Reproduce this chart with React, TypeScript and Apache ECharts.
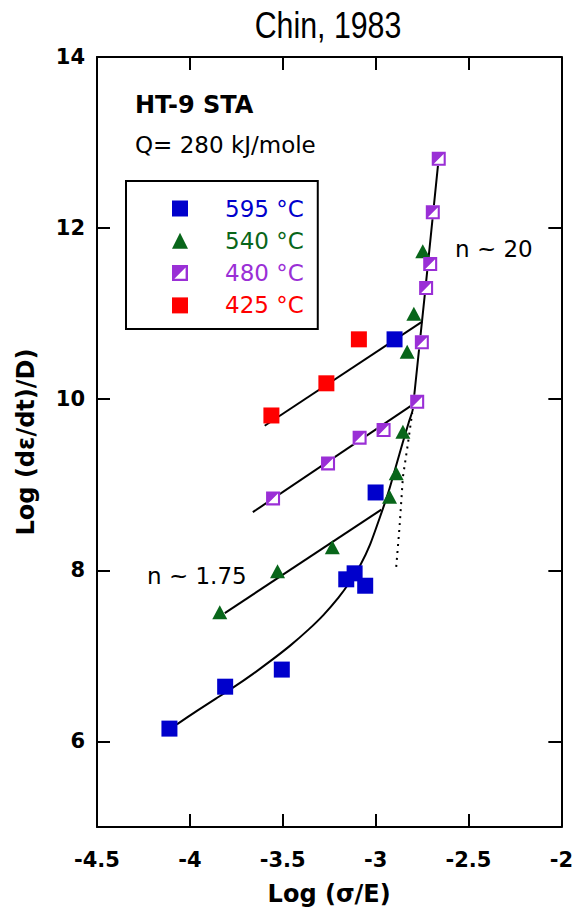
import React, { useEffect, useRef } from "react";
import * as echarts from "echarts";

const xTicks = [-4.5, -4, -3.5, -3, -2.5, -2];
const yTicks = [6, 8, 10, 12, 14];

const s595: number[][] = [
  [-4.11, 6.15], [-3.81, 6.64], [-3.505, 6.84], [-3.158, 7.895], [-3.113, 7.965],
  [-3.056, 7.82], [-3.0, 8.91], [-2.898, 10.7],
];
const s540: number[][] = [
  [-3.839, 7.51], [-3.528, 7.99], [-3.233, 8.27], [-2.925, 8.86], [-2.889, 9.135],
  [-2.853, 9.62], [-2.83, 10.556], [-2.794, 11.0], [-2.746, 11.73],
];
const s480: number[][] = [
  [-3.552, 8.84], [-3.256, 9.25], [-3.086, 9.55], [-2.957, 9.64], [-2.776, 9.97],
  [-2.751, 10.665], [-2.728, 11.3], [-2.706, 11.58], [-2.692, 12.185], [-2.66, 12.81],
];
const s425: number[][] = [
  [-3.561, 9.81], [-3.265, 10.186], [-3.09, 10.7],
];

const fit425: number[][] = [[-3.597, 9.69], [-2.749, 10.906]];
const fit480: number[][] = [[-3.661, 8.68], [-2.77, 9.98]];
const fit540: number[][] = [[-3.812, 7.5], [-2.969, 8.71]];
const curve595: number[][] = [
  [-4.07, 6.2], [-3.96, 6.36], [-3.86, 6.5], [-3.76, 6.64], [-3.66, 6.79],
  [-3.56, 6.95], [-3.46, 7.12], [-3.36, 7.31], [-3.28, 7.48], [-3.2, 7.68],
  [-3.14, 7.86], [-3.08, 8.07], [-3.03, 8.3], [-2.98, 8.6], [-2.93, 8.92],
  [-2.89, 9.22], [-2.853, 9.5], [-2.82, 9.74], [-2.8, 9.88], [-2.661, 12.8],
];
const dotted: number[][] = [
  [-2.889, 8.04], [-2.871, 8.51], [-2.853, 9.09], [-2.826, 9.48], [-2.803, 9.84],
];

const names = ["595 °C", "540 °C", "480 °C", "425 °C"];
const colors = ["#0000CC", "#08661A", "#9A2FD6", "#FF0000"];

const FONT = "'DejaVu Sans', Verdana, sans-serif";
const halfSquare = "path://M0,0L10,0L10,10L0,10Z M1.5,8.5L8.5,8.5L8.5,1.5Z";

export default function App() {
  const ref = useRef<HTMLDivElement>(null);
  useEffect(() => {
    if (!ref.current) return;
    const chart = echarts.init(ref.current, null, { renderer: "svg" });
    const lineSeries = (data: number[][], extra: any = {}) => ({
      type: "line",
      data,
      showSymbol: false,
      symbol: "none",
      silent: true,
      z: 2,
      lineStyle: { color: "#000", width: 2, ...(extra.lineStyle || {}) },
      smooth: extra.smooth || false,
    });
    const axisCommon = {
      axisLine: { show: true, onZero: false, lineStyle: { color: "#000", width: 2 } },
      axisTick: { show: true, inside: true, length: 13, lineStyle: { color: "#000", width: 2 } },
      splitLine: { show: false },
    };
    chart.setOption({
      animation: false,
      backgroundColor: "#fff",
      grid: { left: 97, right: 14, top: 57, bottom: 86, containLabel: false },
      xAxis: [
        {
          type: "value", min: xTicks[0], max: xTicks[xTicks.length - 1], interval: 0.5,
          position: "bottom", ...axisCommon,
          axisLabel: { show: true, margin: 22, color: "#000", fontSize: 21, fontWeight: "bold", fontFamily: FONT },
          name: "Log (σ/E)", nameLocation: "middle", nameGap: 55,
          nameTextStyle: { color: "#000", fontSize: 24, fontWeight: "bold", fontFamily: FONT },
        },
        {
          type: "value", min: xTicks[0], max: xTicks[xTicks.length - 1], interval: 0.5,
          position: "top", ...axisCommon, axisLabel: { show: false },
        },
      ],
      yAxis: [
        {
          type: "value", min: 5, max: 14, position: "left", ...axisCommon,
          axisTick: { ...axisCommon.axisTick, customValues: yTicks },
          axisLabel: { show: true, customValues: yTicks, margin: 12, color: "#000", fontSize: 21, fontWeight: "bold", fontFamily: FONT },
          name: "Log (dε/dt)/D)", nameLocation: "middle", nameGap: 59, nameRotate: 90,
          nameTextStyle: { color: "#000", fontSize: 24, fontWeight: "bold", fontFamily: FONT },
        },
        {
          type: "value", min: 5, max: 14, position: "right", ...axisCommon,
          axisTick: { ...axisCommon.axisTick, customValues: yTicks },
          axisLabel: { show: false },
        },
      ],
      legend: {
        orient: "vertical", left: 126, top: 181,
        padding: [16, 14, 12, 46], itemGap: 9.3, itemWidth: 16, itemHeight: 16,
        borderColor: "#000", borderWidth: 2, backgroundColor: "#fff",
        selectedMode: false,
        textStyle: { fontSize: 23, lineHeight: 23, fontFamily: FONT, padding: [0, 0, 0, 32] },
        data: names.map((n, i) => ({ name: n, textStyle: { color: colors[i] } })),
      },
      graphic: [
        {
          type: "text", x: 328, y: 25, scaleX: 0.82,
          style: { text: "Chin, 1983", x: 0, y: 0, align: "center", verticalAlign: "middle", fontSize: 37, fontFamily: "'Liberation Sans', Arial, sans-serif", fill: "#000" },
        },
        {
          type: "text", x: 135, y: 105,
          style: { text: "HT-9 STA", align: "left", verticalAlign: "middle", fontSize: 24, fontWeight: "bold", fontFamily: FONT, fill: "#000" },
        },
        {
          type: "text", x: 135, y: 145,
          style: { text: "Q= 280 kJ/mole", align: "left", verticalAlign: "middle", fontSize: 23, fontFamily: FONT, fill: "#000" },
        },
        {
          type: "text", x: 147, y: 576,
          style: { text: "n ~ 1.75", align: "left", verticalAlign: "middle", fontSize: 23, fontFamily: FONT, fill: "#000" },
        },
        {
          type: "text", x: 455, y: 249,
          style: { text: "n ~ 20", align: "left", verticalAlign: "middle", fontSize: 23, fontFamily: FONT, fill: "#000" },
        },
      ],
      series: [
        lineSeries(fit425),
        lineSeries(fit480),
        lineSeries(fit540),
        lineSeries(curve595, { smooth: 0.2 }),
        lineSeries(dotted, { lineStyle: { type: [2, 5] } }),
        {
          type: "scatter", name: "480bg", data: s480, symbol: "rect", symbolSize: 14,
          itemStyle: { color: "#fff", opacity: 1 }, z: 3, silent: true,
        },
        {
          type: "scatter", name: names[0], data: s595, symbol: "rect", symbolSize: 16,
          itemStyle: { color: colors[0], opacity: 1 }, z: 4,
        },
        {
          type: "scatter", name: names[1], data: s540, symbol: "triangle", symbolSize: [15, 14],
          itemStyle: { color: colors[1], opacity: 1 }, z: 4,
        },
        {
          type: "scatter", name: names[2], data: s480, symbol: halfSquare, symbolSize: 14,
          itemStyle: { color: colors[2], opacity: 1 }, z: 4,
        },
        {
          type: "scatter", name: names[3], data: s425, symbol: "rect", symbolSize: 16,
          itemStyle: { color: colors[3], opacity: 1 }, z: 4,
        },
      ],
    });
    return () => chart.dispose();
  }, []);
  return (
    <div
      ref={ref}
      style={{ position: "absolute", left: 0, top: 0, width: 576, height: 913 }}
    />
  );
}
